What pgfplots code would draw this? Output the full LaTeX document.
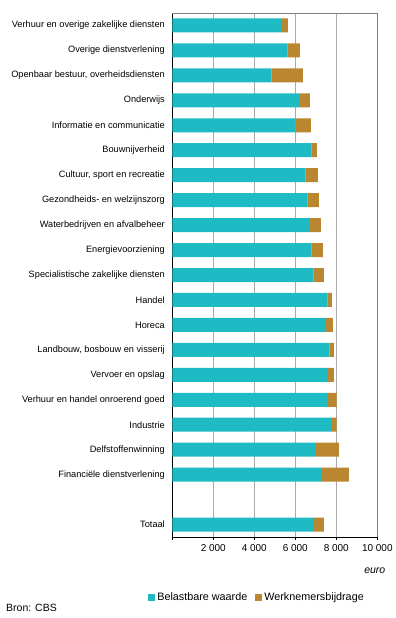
\documentclass[border=0pt]{standalone}
\usepackage{fontspec}
\setmainfont{Liberation Sans}
\usepackage{pgfplots}
\pgfplotsset{compat=1.18}
\definecolor{teal1}{RGB}{30,187,197}
\definecolor{brown1}{RGB}{187,134,48}
\definecolor{gridg}{RGB}{170,170,170}
\definecolor{frameg}{RGB}{128,128,128}
\begin{document}
\begin{tikzpicture}
\begin{axis}[
  scale only axis,
  width=205bp, height=524bp,
  xbar stacked,
  bar width=14bp,
  y dir=reverse,
  xmin=0, xmax=10000,
  ymin=0.5, ymax=21.5,
  scaled x ticks=false,
  axis x line*=bottom,
  axis y line*=left,
  axis line style={black, line width=0.8pt},
  xtick={0,2000,4000,6000,8000,10000},
  xticklabels={,2 000,4 000,6 000,8 000,10 000},
  xticklabel style={font=\fontsize{10bp}{12bp}\selectfont, yshift=-1bp},
  tick align=outside,
  major tick length=3bp,
  xtick style={black, line width=0.8pt},
  xmajorgrids,
  grid style={gridg, line width=0.8pt},
  ytick={1,2,3,4,5,6,7,8,9,10,11,12,13,14,15,16,17,18,19,21},
  yticklabels={Verhuur en overige zakelijke diensten,Overige dienstverlening,{Openbaar bestuur, overheidsdiensten},Onderwijs,Informatie en communicatie,Bouwnijverheid,{Cultuur, sport en recreatie},Gezondheids- en welzijnszorg,Waterbedrijven en afvalbeheer,Energievoorziening,Specialistische zakelijke diensten,Handel,Horeca,{Landbouw, bosbouw en visserij},Vervoer en opslag,Verhuur en handel onroerend goed,Industrie,Delfstoffenwinning,Financiële dienstverlening,Totaal},
  yticklabel style={font=\fontsize{9.2bp}{11bp}\selectfont, xshift=-1bp},
  ytick style={draw=none},
  legend columns=2,
  legend style={draw=none, fill=none, at={(axis description cs:-0.118,-0.116)}, anchor=west,
    font=\fontsize{10.8bp}{13bp}\selectfont, inner sep=0pt,
    /tikz/every even column/.append style={column sep=6bp}},
  legend image code/.code={\fill[#1] (0bp,-3.5bp) rectangle (7bp,3.5bp);},
  clip=false,
]
\addplot[fill=teal1, draw=none] coordinates {
(5350,1) (5610,2) (4846,3) (6179,4) (6000,5) (6780,6) (6488,7) (6585,8) (6715,9) (6780,10)
(6878,11) (7561,12) (7496,13) (7659,14) (7594,15) (7545,16) (7789,17) (7008,18) (7301,19) (6910,21)};
\addlegendentry{Belastbare waarde}
\addplot[fill=brown1, draw=none] coordinates {
(292,1) (618,2) (1528,3) (536,4) (764,5) (277,6) (618,7) (569,8) (537,9) (570,10)
(520,11) (228,12) (341,13) (227,14) (292,15) (471,16) (227,17) (1122,18) (1317,19) (488,21)};
\addlegendentry{Werknemersbijdrage}
\draw[frameg, line width=0.8pt] (axis description cs:0,1) -- (axis description cs:1,1) -- (axis description cs:1,0);
\node[anchor=east, font=\fontsize{10.5bp}{12bp}\selectfont\itshape, inner sep=0pt] at ([yshift=-34bp]axis description cs:1.04,0) {euro};
\coordinate (ll) at (axis description cs:0,0);
\end{axis}
\node[anchor=west, inner sep=0pt, font=\fontsize{10.5bp}{12bp}\selectfont] at ([shift={(-166.3bp,-71bp)}]ll) {Bron: CBS};
\pgfresetboundingbox
\path ([shift={(-172.3bp,-81bp)}]ll) rectangle ([shift={(223.7bp,537bp)}]ll);
\end{tikzpicture}
\end{document}
